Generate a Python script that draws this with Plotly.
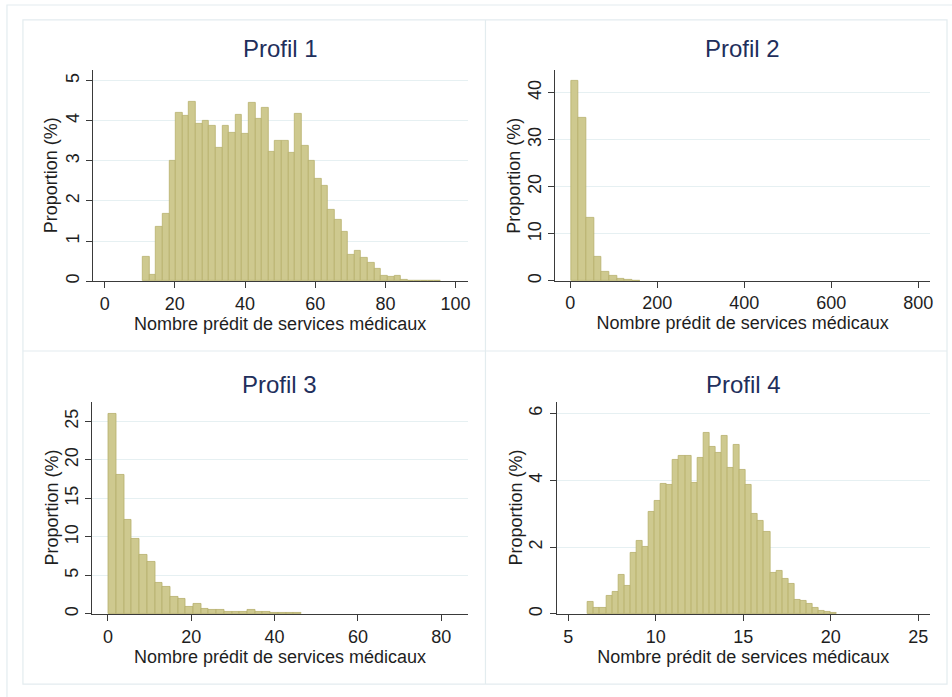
import plotly.graph_objects as go

W, H = 952, 697

# ---------------- data ----------------
titles = ["Profil 1", "Profil 2", "Profil 3", "Profil 4"]
x_title = "Nombre prédit de services médicaux"
y_title = "Proportion (%)"

# Panel 1 : bin start / width and heights (%)
p1_start, p1_width = 10.9, 1.885
p1_heights = [0.60, 0.17, 1.35, 1.68, 3.00, 4.19, 4.12, 4.46, 3.92, 4.00,
              3.88, 3.32, 3.88, 3.71, 4.14, 3.68, 4.44, 4.05, 4.33, 3.23,
              3.49, 3.49, 3.20, 4.17, 3.37, 3.01, 2.55, 2.37, 1.78, 1.54,
              1.23, 0.66, 0.75, 0.58, 0.47, 0.32, 0.14, 0.11, 0.14, 0.04,
              0.02, 0.01, 0.01, 0.005, 0.01]

# Panel 2
p2_start, p2_width = 1.5, 17.6
p2_heights = [42.6, 34.6, 13.3, 5.1, 1.84, 0.99, 0.50, 0.20, 0.10]

# Panel 3
p3_start, p3_width = 0.17, 1.85
p3_heights = [26.0, 18.1, 12.27, 9.76, 7.73, 6.78, 4.10, 3.46, 2.16, 1.90,
              0.91, 1.25, 0.65, 0.52, 0.48, 0.30, 0.30, 0.30, 0.56, 0.22,
              0.22, 0.10, 0.10, 0.08, 0.12]

# Panel 4
p4_start, p4_width = 6.12, 0.347
p4_heights = [0.37, 0.17, 0.17, 0.54, 0.65, 1.16, 0.85, 1.84, 2.20, 2.02,
              3.07, 3.38, 3.90, 3.88, 4.60, 4.74, 4.74, 3.93, 4.67, 5.42,
              5.00, 4.82, 5.32, 4.38, 5.07, 4.32, 3.87, 3.00, 2.79, 2.47,
              1.24, 1.29, 1.05, 0.90, 0.43, 0.39, 0.30, 0.17, 0.09, 0.07,
              0.02]

x_ticks = [[0, 20, 40, 60, 80, 100], [0, 200, 400, 600, 800],
           [0, 20, 40, 60, 80], [5, 10, 15, 20, 25]]
y_ticks = [[0, 1, 2, 3, 4, 5], [0, 10, 20, 30, 40],
           [0, 5, 10, 15, 20, 25], [0, 2, 4, 6]]

# ---------------- layout geometry (pixels) ----------------
x_ranges = [[-3.4, 103.4], [-34.4, 827], [-3.73, 86.3], [4.33, 25.67]]
y_ranges = [[0, 5.27], [0, 44.85], [0, 27.55], [0, 6.35]]
boxes = [(93, 469, 70, 282), (557, 933, 70, 281.7),
         (92.7, 469, 403, 615.7), (558.3, 933, 403, 615.7)]

FONT = "Liberation Sans, Arial, Helvetica, sans-serif"
BAR_FILL = "rgb(206,201,143)"
BAR_LINE = "rgb(182,176,108)"
GRID = "#e6f0f2"
FRAME = "#e3ecef"
AXIS = "#3a3a3a"
TXT = "#1e1e1e"
FS = 18

series = [(p1_start, p1_width, p1_heights), (p2_start, p2_width, p2_heights),
          (p3_start, p3_width, p3_heights), (p4_start, p4_width, p4_heights)]

fig = go.Figure()
for i, (s, w, hts) in enumerate(series):
    centers = [s + w * (k + 0.5) for k in range(len(hts))]
    suffix = "" if i == 0 else str(i + 1)
    fig.add_trace(go.Bar(
        x=centers, y=hts, width=[w] * len(hts),
        marker=dict(color=BAR_FILL, line=dict(color=BAR_LINE, width=0.8)),
        xaxis="x" + suffix, yaxis="y" + suffix, showlegend=False,
        hoverinfo="x+y"))

layout = dict(
    width=W, height=H, margin=dict(l=0, r=0, t=0, b=0),
    paper_bgcolor="white", plot_bgcolor="white",
    font=dict(family=FONT, size=FS, color=TXT),
    bargap=0, showlegend=False,
)

annotations = []
shapes = []
for i, (x0, x1, y0, y1) in enumerate(boxes):
    suffix = "" if i == 0 else str(i + 1)
    xa = dict(
        domain=[x0 / W, x1 / W], range=x_ranges[i], anchor="y" + suffix,
        tickmode="array", tickvals=x_ticks[i], ticks="outside", ticklen=6,
        tickcolor=AXIS, showline=True, linecolor=AXIS, linewidth=1,
        showgrid=False, zeroline=False, fixedrange=True,
        tickfont=dict(size=FS, color=TXT),
        title=dict(text=x_title, font=dict(size=FS, color=TXT), standoff=0),
    )
    ya = dict(
        domain=[1 - y1 / H, 1 - y0 / H], range=y_ranges[i], anchor="x" + suffix,
        tickmode="array", tickvals=y_ticks[i], ticks="outside", ticklen=6,
        tickcolor=AXIS, showline=True, linecolor=AXIS, linewidth=1,
        showgrid=True, gridcolor=GRID, gridwidth=1, zeroline=False,
        fixedrange=True, tickangle=-90,
        tickfont=dict(size=FS, color=TXT),
    )
    layout["xaxis" + suffix] = xa
    layout["yaxis" + suffix] = ya
    annotations.append(dict(
        text=titles[i], x=(x0 + x1) / 2 / W, y=1 - (49 if i < 2 else 386) / H,
        xref="paper", yref="paper", xanchor="center", yanchor="middle",
        showarrow=False, font=dict(size=24, color="#1f2f5c", family=FONT)))
    # y-axis title
    annotations.append(dict(
        text=y_title, x=(x0 - 41) / W, y=1 - (y0 + y1) / 2 / H,
        xref="paper", yref="paper", xanchor="center", yanchor="middle",
        textangle=-90, showarrow=False,
        font=dict(size=FS, color=TXT, family=FONT)))

# panel frames
def rect(x0, y0, x1, y1):
    return dict(type="rect", xref="paper", yref="paper",
                x0=x0 / W, x1=x1 / W, y0=1 - y1 / H, y1=1 - y0 / H,
                line=dict(color=FRAME, width=1.2), fillcolor="rgba(0,0,0,0)",
                layer="below")

shapes.append(rect(7, 5, 960, 705))
shapes.append(rect(23, 20, 950, 686))
shapes.append(dict(type="line", xref="paper", yref="paper",
                   x0=487 / W, x1=487 / W, y0=1 - 686 / H, y1=1 - 20 / H,
                   line=dict(color=FRAME, width=1.2), layer="below"))
shapes.append(dict(type="line", xref="paper", yref="paper",
                   x0=23 / W, x1=950 / W, y0=1 - 352 / H, y1=1 - 352 / H,
                   line=dict(color=FRAME, width=1.2), layer="below"))

layout["annotations"] = annotations
layout["shapes"] = shapes
fig.update_layout(**layout)

fig.write_html("out.html")
